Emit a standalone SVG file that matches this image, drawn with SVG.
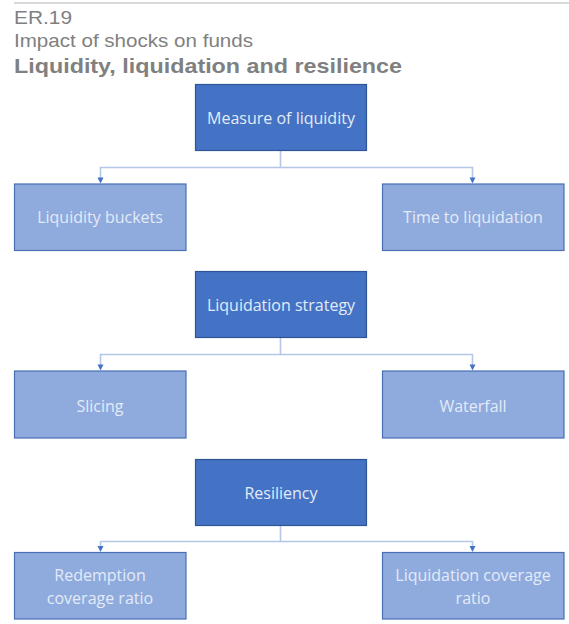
<svg xmlns="http://www.w3.org/2000/svg" width="569" height="624" viewBox="0 0 569 624">
  <style>
    .hdr { font-family: "Liberation Sans", Arial, sans-serif; fill: #808080; }
    .parent rect { fill: #4472c4; stroke: #2f5597; stroke-width: 1.2; }
    .child rect { fill: #8faadc; stroke: #4a6fb5; stroke-width: 1.2; }
    .node text { font-family: "Open Sans", "Noto Sans", sans-serif; font-size: 16px; fill: #e3ebf8; text-anchor: middle; }
    .conn { fill: none; stroke: #b4c7e7; stroke-width: 1.6; }
    .tip { fill: #4472c4; }
  </style>
  <rect x="0" y="0" width="569" height="624" fill="#ffffff"/>

  <!-- heading -->
  <line x1="14" y1="3" x2="569" y2="3" stroke="#d9d9d9" stroke-width="2"/>
  <text class="hdr" x="14" y="24" font-size="19" textLength="58" lengthAdjust="spacingAndGlyphs">ER.19</text>
  <text class="hdr" x="14" y="47" font-size="19" textLength="239" lengthAdjust="spacingAndGlyphs">Impact of shocks on funds</text>
  <text class="hdr" x="14" y="73" font-size="21" font-weight="bold" fill="#6e6e6e" textLength="388" lengthAdjust="spacingAndGlyphs">Liquidity, liquidation and resilience</text>

  <!-- connectors -->
  <g id="connectors">
    <path class="conn" d="M280.5,151 V167.5 H100.5 V181"/>
    <path class="conn" d="M280.5,167.5 H472.5 V181"/>
    <path class="conn" d="M280.5,338 V354.5 H100.5 V368"/>
    <path class="conn" d="M280.5,354.5 H472.5 V368"/>
    <path class="conn" d="M280.5,526 V541.5 H100.5 V549"/>
    <path class="conn" d="M280.5,541.5 H472.5 V549"/>
    <path class="tip" d="M97.5,177.5 H103.5 L100.5,183.5 Z"/>
    <path class="tip" d="M469.5,177.5 H475.5 L472.5,183.5 Z"/>
    <path class="tip" d="M97.5,364.5 H103.5 L100.5,370.5 Z"/>
    <path class="tip" d="M469.5,364.5 H475.5 L472.5,370.5 Z"/>
    <path class="tip" d="M97.5,546 H103.5 L100.5,552 Z"/>
    <path class="tip" d="M469.5,546 H475.5 L472.5,552 Z"/>
  </g>

  <!-- row 1 -->
  <g id="measure-of-liquidity" class="node parent">
    <rect x="195.5" y="84.5" width="171" height="66"/>
    <text x="281" y="123.5">Measure of liquidity</text>
  </g>
  <g id="liquidity-buckets" class="node child">
    <rect x="14.5" y="184" width="171.5" height="66.5"/>
    <text x="100" y="223">Liquidity buckets</text>
  </g>
  <g id="time-to-liquidation" class="node child">
    <rect x="382.5" y="184" width="181.5" height="66.5"/>
    <text x="473" y="223">Time to liquidation</text>
  </g>

  <!-- row 2 -->
  <g id="liquidation-strategy" class="node parent">
    <rect x="195.5" y="271.5" width="171" height="66"/>
    <text x="281" y="310.5">Liquidation strategy</text>
  </g>
  <g id="slicing" class="node child">
    <rect x="14.5" y="371" width="171.5" height="67"/>
    <text x="100" y="411.5">Slicing</text>
  </g>
  <g id="waterfall" class="node child">
    <rect x="382.5" y="371" width="181.5" height="67"/>
    <text x="473" y="411.5">Waterfall</text>
  </g>

  <!-- row 3 -->
  <g id="resiliency" class="node parent">
    <rect x="195.5" y="459.5" width="171" height="66"/>
    <text x="281" y="498.5">Resiliency</text>
  </g>
  <g id="redemption-coverage-ratio" class="node child">
    <rect x="14.5" y="552.5" width="171.5" height="66.5"/>
    <text x="100" y="581">Redemption</text>
    <text x="100" y="604">coverage ratio</text>
  </g>
  <g id="liquidation-coverage-ratio" class="node child">
    <rect x="382.5" y="552.5" width="181.5" height="66.5"/>
    <text x="473" y="581">Liquidation coverage</text>
    <text x="473" y="604">ratio</text>
  </g>
</svg>
